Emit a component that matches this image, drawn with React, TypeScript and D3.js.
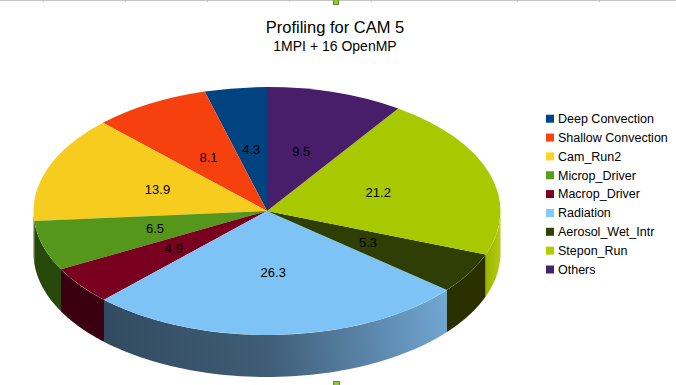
import React from 'react';
import * as d3 from 'd3';

const categories = ['Deep Convection', 'Shallow Convection', 'Cam_Run2', 'Microp_Driver', 'Macrop_Driver', 'Radiation', 'Aerosol_Wet_Intr', 'Stepon_Run', 'Others'];
const values = [4.3, 8.1, 13.9, 6.5, 4.9, 26.3, 5.3, 21.2, 9.5];
const colors = ['#004586', '#ff420e', '#ffd320', '#579d1c', '#7e0021', '#83caff', '#314004', '#aecf00', '#4b1f6f'];
const wallColors = ['#002a52', '#8a2408', '#7a6510', '#274a0c', '#3a0012', 'url(#radWall)', '#2a3000', 'url(#stepWall)', '#2a1040'];
const title = 'Profiling for CAM 5';
const subtitle = '1MPI + 16 OpenMP';

const W = 676;
const H = 385;
const cx = 267;
const cy = 211;
const rx = 233.5;
const ry = 124;
const depth = 42;

const App = () => {
  const pie = d3.pie<number>().sort(null).startAngle(0).endAngle(-2 * Math.PI);
  const arcs = pie(values);

  // top faces drawn as a circle squashed into an ellipse
  const arcGen = d3.arc<d3.PieArcDatum<number>>().innerRadius(0).outerRadius(rx);

  const px = (a: number, f = 1) => cx + rx * Math.sin(a) * f;
  const py = (a: number, f = 1) => cy - ry * Math.cos(a) * f;

  const line = d3.line<[number, number]>();

  // outer walls only on the front half (CCW 90..270 deg from top)
  const walls = arcs.map((d, i) => {
    const lo = Math.max(Math.min(d.startAngle, d.endAngle), -1.5 * Math.PI);
    const hi = Math.min(Math.max(d.startAngle, d.endAngle), -0.5 * Math.PI);
    if (lo >= hi) return null;
    const n = 60;
    const ts = d3.range(n + 1).map(k => lo + ((hi - lo) * k) / n);
    const pts: [number, number][] = [
      ...ts.map(a => [px(a), py(a)] as [number, number]),
      ...ts.slice().reverse().map(a => [px(a), py(a) + depth] as [number, number]),
    ];
    return { i, path: line(pts) + 'Z' };
  }).filter(Boolean) as { i: number; path: string }[];

  const rowY = (i: number) => 118.7 + i * 18.85;

  return (
    <svg width={W} height={H} style={{ position: 'absolute', left: 0, top: 0, background: '#fff' }}
      fontFamily="'Liberation Sans', Arial, sans-serif">
      <defs>
        <linearGradient id="radWall" gradientUnits="userSpaceOnUse" x1={110} y1={350} x2={447} y2={290}>
          <stop offset="0" stopColor="#324b60" />
          <stop offset="0.45" stopColor="#3f5d77" />
          <stop offset="1" stopColor="#72a8d4" />
        </linearGradient>
        <linearGradient id="stepWall" gradientUnits="userSpaceOnUse" x1={486} y1={0} x2={501} y2={0}>
          <stop offset="0" stopColor="#9cb600" />
          <stop offset="1" stopColor="#b2cc14" />
        </linearGradient>
      </defs>

      <rect x={0} y={0} width={W} height={H} fill="#fff" />

      {/* selection frame marks */}
      <line x1={0} x2={W} y1={0.5} y2={0.5} stroke="#c4c4c4" />
      {[43, 125, 207, 289, 371, 517, 599].map(x => (
        <line key={x} x1={x + 0.5} x2={x + 0.5} y1={0} y2={2} stroke="#c4c4c4" />
      ))}
      <rect x={333.5} y={-0.5} width={5} height={5} fill="#8cc63e" stroke="#5e9424" />
      <rect x={333.5} y={381.5} width={6} height={5} fill="#8cc63e" stroke="#5e9424" />

      <text x={335} y={33} textAnchor="middle" fontSize={16.5} fill="#000">{title}</text>
      <text x={335} y={51} textAnchor="middle" fontSize={14} fill="#000">{subtitle}</text>

      <g>
        {walls.map(w => (
          <path key={w.i} d={w.path} fill={wallColors[w.i]} />
        ))}
      </g>

      <g transform={`translate(${cx},${cy}) scale(1,${ry / rx})`}>
        {arcs.map((d, i) => (
          <path key={i} d={arcGen(d) || ''} fill={d3.color(colors[i])!.darker(0.1).formatHex()} />
        ))}
      </g>

      <g fontSize={13} fill="#000" textAnchor="middle">
        {arcs.map((d, i) => {
          const m = (d.startAngle + d.endAngle) / 2;
          return (
            <text key={i} x={px(m, 0.5)} y={py(m, 0.5)} dy="0.35em">{values[i]}</text>
          );
        })}
      </g>

      <g fontSize={12.5} fill="#000">
        {categories.map((c, i) => (
          <g key={c}>
            <rect x={546} y={rowY(i) - 4} width={8} height={8} fill={colors[i]} />
            <text x={558} y={rowY(i)} dy="0.35em">{c}</text>
          </g>
        ))}
      </g>
    </svg>
  );
};

export default App;
